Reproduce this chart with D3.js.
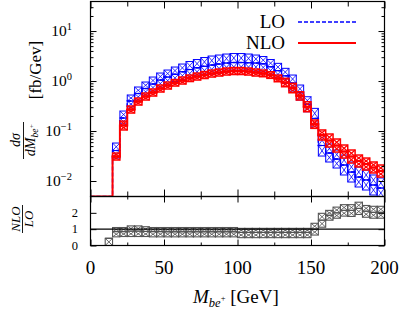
<!DOCTYPE html>
<html><head><meta charset="utf-8">
<script src="https://cdn.jsdelivr.net/npm/d3@7"></script>
<style>body{margin:0;background:#fff}svg{display:block}text{font-family:"Liberation Serif","Times New Roman",serif;fill:#000}</style>
</head><body><svg id="c" width="400" height="309"></svg>
<script>
// ---- data ----
const binStart = [15,20,25,30,35,40,45,50,55,60,65,70,75,80,85,90,95,100,105,110,115,120,125,130,135,140,145,150,155,160,165,170,175,180,185,190,195];
const loC    = [0.0407,0.182,0.398,0.562,0.708,0.871,1.047,1.202,1.365,1.531,1.698,1.841,1.972,2.089,2.188,2.291,2.344,2.344,2.317,2.291,2.213,1.928,1.611,1.270,0.912,0.589,0.344,0.179,0.0513,0.0363,0.0275,0.0209,0.0151,0.0120,0.0105,0.00832,0.00724];
const loHigh = [0.0575,0.251,0.525,0.759,0.955,1.202,1.445,1.660,1.905,2.188,2.455,2.692,2.951,3.162,3.311,3.467,3.548,3.548,3.467,3.311,3.090,2.692,2.259,1.795,1.318,0.832,0.485,0.284,0.0832,0.0550,0.0417,0.0331,0.0240,0.0191,0.0166,0.0132,0.0115];
const loLow  = [0.0288,0.132,0.302,0.417,0.525,0.631,0.759,0.871,0.977,1.072,1.175,1.259,1.318,1.380,1.445,1.514,1.549,1.549,1.549,1.585,1.585,1.380,1.148,0.899,0.631,0.417,0.243,0.113,0.0316,0.0240,0.0182,0.0132,0.00955,0.00759,0.00661,0.00525,0.00457];
const nloC    = [0.0309,0.129,0.269,0.389,0.490,0.589,0.708,0.813,0.923,1.023,1.135,1.230,1.318,1.413,1.479,1.549,1.585,1.585,1.549,1.479,1.422,1.318,1.130,0.933,0.724,0.505,0.306,0.137,0.0832,0.0646,0.0513,0.0389,0.0309,0.0251,0.0219,0.0186,0.0158];
const nloHigh = [0.0363,0.158,0.316,0.457,0.575,0.692,0.832,0.955,1.072,1.202,1.318,1.445,1.549,1.660,1.738,1.820,1.862,1.862,1.820,1.738,1.660,1.535,1.318,1.132,0.899,0.611,0.385,0.166,0.105,0.0871,0.0692,0.0525,0.0417,0.0331,0.0288,0.0240,0.0209];
const nloLow  = [0.0263,0.105,0.229,0.331,0.417,0.501,0.603,0.692,0.794,0.871,0.977,1.047,1.122,1.202,1.259,1.318,1.349,1.349,1.318,1.259,1.219,1.132,0.968,0.769,0.583,0.417,0.243,0.113,0.0661,0.0479,0.0380,0.0288,0.0229,0.0191,0.0166,0.0145,0.0120];

const ratioBins = [10,15,20,25,30,35,40,45,50,55,60,65,70,75,80,85,90,95,100,105,110,115,120,125,130,135,140,145,150,155,160,165,170,175,180,185,190,195];
const ratioC    = [0.44,0.85,0.85,0.88,0.88,0.86,0.85,0.85,0.84,0.84,0.84,0.84,0.84,0.84,0.84,0.84,0.84,0.84,0.80,0.80,0.80,0.80,0.80,0.80,0.80,0.80,0.80,0.80,1.0,1.55,1.85,2.0,2.15,2.15,2.27,2.1,2.03,2.03];
const ratioLow  = [0,0.53,0.55,0.55,0.55,0.55,0.53,0.53,0.53,0.53,0.53,0.53,0.53,0.53,0.53,0.53,0.53,0.53,0.48,0.48,0.48,0.48,0.48,0.48,0.48,0.48,0.48,0.48,0.64,1.12,1.55,1.67,1.8,1.78,1.9,1.73,1.67,1.67];
const ratioHigh = [0.44,1.1,1.1,1.2,1.2,1.15,1.1,1.1,1.1,1.1,1.1,1.1,1.1,1.1,1.1,1.1,1.1,1.1,1.05,1.05,1.05,1.05,1.05,1.05,1.05,1.05,1.05,1.05,1.36,1.97,2.15,2.35,2.5,2.5,2.65,2.45,2.4,2.4];

const binWidth = 5;
const xTicks = [0,50,100,150,200];
const xMinorTicks = [25,75,125,175];
const yDecades = [-2,-1,0,1];
const ratioTicks = [0,1,2];
const legendLabels = ["LO","NLO"];

// ---- layout ----
const L = 90.5, R = 384.5, T = 1.5, MB = 196.5, RB = 245.5;
const svg = d3.select("#c");
const x = d3.scaleLinear().domain([0,200]).range([L,R]);
const y = d3.scaleLog().domain([0.0049,39]).range([MB,T]);
const yr = d3.scaleLinear().domain([0,3]).range([RB,MB]);

const blue = "#0000ff", red = "#ff0000", grey = "#555555";

svg.append("defs").append("clipPath").attr("id","cm")
  .append("rect").attr("x",L).attr("y",T).attr("width",R-L).attr("height",MB-T);
svg.select("defs").append("clipPath").attr("id","cr")
  .append("rect").attr("x",L).attr("y",MB).attr("width",R-L).attr("height",RB-MB);

function boxes(g, bins, c, lo, hi, ys, color, sw) {
  const data = [];
  bins.forEach((b,i) => {
    data.push({b, a:c[i], v:hi[i]});
    data.push({b, a:c[i], v:lo[i]});
  });
  const sel = g.selectAll(null).data(data).enter();
  sel.append("rect")
    .attr("x", d => x(d.b)).attr("width", d => x(d.b+binWidth)-x(d.b))
    .attr("y", d => Math.min(ys(d.a), ys(d.v)))
    .attr("height", d => Math.abs(ys(d.v)-ys(d.a)))
    .attr("fill","none").attr("stroke",color).attr("stroke-width",sw);
  sel.append("path")
    .attr("d", d => {
      const x0 = x(d.b), x1 = x(d.b+binWidth), y0 = ys(d.a), y1 = ys(d.v);
      return `M${x0},${y0}L${x1},${y1}M${x0},${y1}L${x1},${y0}`;
    })
    .attr("fill","none").attr("stroke",color).attr("stroke-width",sw*0.8);
}

function stepLine(bins, c, ys, floor) {
  const pts = [[0, floor]];
  bins.forEach((b,i) => pts.push([b, c[i]]));
  pts.push([bins[bins.length-1]+binWidth, c[c.length-1]]);
  return d3.line().x(d => x(d[0])).y(d => ys(d[1])).curve(d3.curveStepAfter)(pts);
}

// ---- main panel ----
const gm = svg.append("g").attr("clip-path","url(#cm)");
boxes(gm, binStart, loC, loLow, loHigh, y, blue, 1);
gm.append("path").attr("d", stepLine(binStart, loC, y, 0.0049))
  .attr("fill","none").attr("stroke",blue).attr("stroke-width",1.5).attr("stroke-dasharray","4,2");
boxes(gm, binStart, nloC, nloLow, nloHigh, y, red, 1.5);
gm.append("path").attr("d", stepLine(binStart, nloC, y, 0.0049))
  .attr("fill","none").attr("stroke",red).attr("stroke-width",2);

// ---- ratio panel ----
const gr = svg.append("g").attr("clip-path","url(#cr)");
boxes(gr, ratioBins, ratioC, ratioLow, ratioHigh, yr, grey, 1.1);
gr.append("line").attr("x1",L).attr("x2",R).attr("y1",yr(1)).attr("y2",yr(1))
  .attr("stroke","#000").attr("stroke-width",1.2);

// ---- axes ----
function noDomain(g){ g.select(".domain").remove(); g.selectAll("text").remove(); g.selectAll("line").attr("stroke","#000").attr("stroke-width",1); }
const minors = [];
yDecades.forEach(k => { for (let m=2;m<=9;m++) minors.push(m*Math.pow(10,k)); });
const majors = yDecades.map(k => Math.pow(10,k));
const minorsIn = minors.filter(v => v>=0.0049 && v<=39);

svg.append("g").attr("transform",`translate(${L},0)`).call(d3.axisRight(y).tickValues(majors).tickSize(6).tickFormat("")).call(noDomain);
svg.append("g").attr("transform",`translate(${L},0)`).call(d3.axisRight(y).tickValues(minorsIn).tickSize(3).tickFormat("")).call(noDomain);
svg.append("g").attr("transform",`translate(${R},0)`).call(d3.axisLeft(y).tickValues(majors).tickSize(6).tickFormat("")).call(noDomain);
svg.append("g").attr("transform",`translate(${R},0)`).call(d3.axisLeft(y).tickValues(minorsIn).tickSize(3).tickFormat("")).call(noDomain);

svg.append("g").attr("transform",`translate(0,${MB})`).call(d3.axisTop(x).tickValues(xTicks).tickSize(7).tickFormat("")).call(noDomain);
svg.append("g").attr("transform",`translate(0,${MB})`).call(d3.axisTop(x).tickValues(xMinorTicks).tickSize(5).tickFormat("")).call(noDomain);
svg.append("g").attr("transform",`translate(0,${T})`).call(d3.axisBottom(x).tickValues(xTicks).tickSize(7).tickFormat("")).call(noDomain);
svg.append("g").attr("transform",`translate(0,${T})`).call(d3.axisBottom(x).tickValues(xMinorTicks).tickSize(5).tickFormat("")).call(noDomain);

svg.append("g").attr("transform",`translate(0,${RB})`).call(d3.axisTop(x).tickValues(xTicks).tickSize(6).tickFormat("")).call(noDomain);
svg.append("g").attr("transform",`translate(0,${RB})`).call(d3.axisTop(x).tickValues(xMinorTicks).tickSize(3).tickFormat("")).call(noDomain);
svg.append("g").attr("transform",`translate(0,${MB})`).call(d3.axisBottom(x).tickValues(xTicks).tickSize(6).tickFormat("")).call(noDomain);
svg.append("g").attr("transform",`translate(0,${MB})`).call(d3.axisBottom(x).tickValues(xMinorTicks).tickSize(3).tickFormat("")).call(noDomain);
svg.append("g").attr("transform",`translate(${L},0)`).call(d3.axisRight(yr).tickValues(ratioTicks).tickSize(6).tickFormat("")).call(noDomain);
svg.append("g").attr("transform",`translate(${R},0)`).call(d3.axisLeft(yr).tickValues(ratioTicks).tickSize(6).tickFormat("")).call(noDomain);

// frames
svg.append("rect").attr("x",L).attr("y",T).attr("width",R-L).attr("height",MB-T).attr("fill","none").attr("stroke","#000").attr("stroke-width",1.2);
svg.append("rect").attr("x",L).attr("y",MB).attr("width",R-L).attr("height",RB-MB).attr("fill","none").attr("stroke","#000").attr("stroke-width",1.2);

// tick labels
svg.append("g").selectAll("text").data(xTicks).enter().append("text")
  .attr("x", d => x(d)).attr("y", 274).attr("text-anchor","middle").attr("font-size",19).text(d => d);
const yl = svg.append("g").selectAll("text").data(yDecades).enter().append("text")
  .attr("x", 72).attr("y", d => y(Math.pow(10,d))+5).attr("text-anchor","end").attr("font-size",15.5);
yl.append("tspan").text("10");
yl.append("tspan").attr("font-size",10.5).attr("dy",-6.5).text(d => d<0 ? "\u2212"+(-d) : d);
svg.append("g").selectAll("text").data(ratioTicks).enter().append("text")
  .attr("x", 78).attr("y", d => yr(d)+4).attr("text-anchor","end").attr("font-size",12.5).text(d => d);

// x label
const xl = svg.append("text").attr("x",193).attr("y",303).attr("font-size",19);
xl.append("tspan").attr("font-style","italic").text("M");
xl.append("tspan").attr("font-style","italic").attr("font-size",12.5).attr("dy",4).text("be");
xl.append("tspan").attr("font-size",8.5).attr("dy",-6).text("+");
xl.append("tspan").attr("dy",2).text(" [GeV]");

// y label
svg.append("text").attr("transform","translate(41,70) rotate(-90)").attr("text-anchor","middle").attr("font-size",17).text("[fb/Gev]");
svg.append("text").attr("transform","translate(20,140) rotate(-90)").attr("text-anchor","middle").attr("font-size",14).attr("font-style","italic").text("d\u03c3");
svg.append("line").attr("x1",23.5).attr("x2",23.5).attr("y1",122).attr("y2",159).attr("stroke","#000").attr("stroke-width",0.9);
const dl = svg.append("text").attr("transform","translate(35,140) rotate(-90)").attr("text-anchor","middle").attr("font-size",14).attr("font-style","italic");
dl.append("tspan").text("dM");
dl.append("tspan").attr("font-size",9.5).attr("dy",3).text("be");
dl.append("tspan").attr("font-size",7).attr("dy",-4.5).text("+");

// ratio label
svg.append("text").attr("transform","translate(20,219) rotate(-90)").attr("text-anchor","middle").attr("font-size",13).attr("font-style","italic").text("NLO");
svg.append("line").attr("x1",22.5).attr("x2",22.5).attr("y1",205).attr("y2",233).attr("stroke","#000").attr("stroke-width",0.9);
svg.append("text").attr("transform","translate(33,219) rotate(-90)").attr("text-anchor","middle").attr("font-size",13).attr("font-style","italic").text("LO");

// legend
const lg = svg.append("g");
lg.selectAll("text").data(legendLabels).enter().append("text")
  .attr("x",285).attr("y",(d,i) => 28 + i*21).attr("text-anchor","end").attr("font-size",19).text(d => d);
lg.append("line").attr("x1",298).attr("x2",356).attr("y1",22).attr("y2",22).attr("stroke",blue).attr("stroke-width",1.5).attr("stroke-dasharray","4,2");
lg.append("line").attr("x1",298).attr("x2",356).attr("y1",43).attr("y2",43).attr("stroke",red).attr("stroke-width",2);
</script></body></html>
